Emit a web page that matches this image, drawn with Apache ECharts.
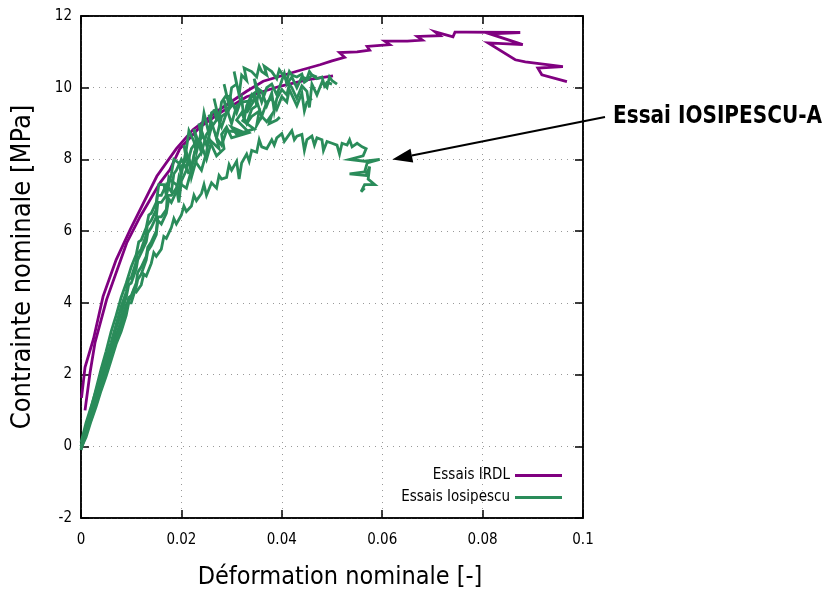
<!DOCTYPE html>
<html>
<head>
<meta charset="utf-8">
<script src="https://cdn.jsdelivr.net/npm/echarts@6/dist/echarts.min.js"></script>
<style>html,body{margin:0;padding:0;background:#fff}#c{width:826px;height:596px}</style>
</head>
<body>
<div id="c"></div>
<script>
var xTicks = [0, 0.02, 0.04, 0.06, 0.08, 0.1];
var yTicks = [-2, 0, 2, 4, 6, 8, 10, 12];

var irdlA = [[0.0001,1.35],[0.0008,2.2],[0.0025,3.0],[0.0044,4.18],[0.007,5.2],[0.0098,6.04],[0.0125,6.8],[0.0151,7.53],[0.019,8.3],[0.0223,8.83],[0.0277,9.4],[0.033,9.9],[0.0363,10.18],[0.043,10.46],[0.0476,10.64],[0.050,10.75],[0.0525,10.85],[0.0515,10.98],[0.055,11.0],[0.0575,11.05],[0.057,11.15],[0.0615,11.2],[0.0605,11.3],[0.065,11.3],[0.068,11.33],[0.067,11.43],[0.0715,11.45],[0.0705,11.56],[0.0741,11.42],[0.0745,11.55],[0.0768,11.55],[0.0875,11.54],[0.0815,11.5],[0.088,11.2],[0.0811,11.25],[0.0865,10.78],[0.0885,10.72],[0.096,10.59],[0.091,10.55],[0.0918,10.36],[0.0968,10.17]];
var irdlB = [[0.0008,1.0],[0.0018,2.05],[0.0028,2.9],[0.0051,4.09],[0.0091,5.67],[0.0118,6.41],[0.0157,7.34],[0.0177,7.71],[0.0197,8.3],[0.0237,8.9],[0.0277,9.3],[0.033,9.75],[0.0396,10.04],[0.045,10.22],[0.0502,10.33]];

var iosA = [[0,-0.1],[0.001,0.35],[0.002,0.75],[0.003,1.3],[0.004,1.75],[0.005,2.2],[0.006,2.65],[0.007,3.1],[0.008,3.5],[0.009,3.95],[0.010,4.15],[0.0105,4.35],[0.011,4.3],[0.012,4.5],[0.0125,4.8],[0.013,4.75],[0.014,5.1],[0.0145,5.4],[0.015,5.3],[0.016,5.5],[0.0165,5.85],[0.017,5.8],[0.018,6.1],[0.0185,6.35],[0.019,6.2],[0.020,6.45],[0.0205,6.7],[0.021,6.55],[0.022,6.7],[0.0225,7.0],[0.023,6.85],[0.024,7.05],[0.0245,7.3],[0.025,7.0],[0.026,7.35],[0.027,7.2],[0.0275,7.55],[0.028,7.45],[0.029,7.5],[0.0295,7.85],[0.030,7.7],[0.031,7.95],[0.0315,7.45],[0.032,7.9],[0.033,8.15],[0.0335,7.95],[0.034,8.25],[0.035,8.2],[0.0355,8.55],[0.036,8.35],[0.037,8.3],[0.038,8.55],[0.0385,8.4],[0.039,8.6],[0.040,8.72],[0.0405,8.5],[0.041,8.6],[0.042,8.8],[0.0425,8.55],[0.043,8.65],[0.044,8.7],[0.0445,8.25],[0.045,8.55],[0.046,8.65],[0.0465,8.4],[0.047,8.6],[0.048,8.55],[0.0483,8.25],[0.049,8.5],[0.050,8.45],[0.051,8.4],[0.0515,8.15],[0.052,8.45],[0.053,8.4],[0.0535,8.55],[0.054,8.35],[0.055,8.45],[0.056,8.35],[0.0568,8.3],[0.0562,8.1],[0.0535,8.0],[0.0565,7.95],[0.0595,8.0],[0.057,7.9],[0.0565,7.65],[0.0535,7.6],[0.0568,7.55],[0.0575,7.8],[0.0572,7.45],[0.0585,7.3],[0.0565,7.3],[0.0558,7.1],[0.0565,7.2]];
var iosB = [[0,0],[0.001,0.55],[0.002,1.05],[0.003,1.6],[0.004,2.15],[0.005,2.65],[0.006,3.2],[0.007,3.65],[0.008,4.15],[0.009,4.55],[0.010,5.0],[0.011,5.35],[0.0115,5.7],[0.012,5.75],[0.013,6.1],[0.0135,6.45],[0.014,6.5],[0.015,6.8],[0.0155,7.3],[0.0165,7.3],[0.017,7.0],[0.018,7.6],[0.0185,8.0],[0.0195,7.9],[0.020,7.6],[0.021,8.3],[0.0215,8.8],[0.0225,8.5],[0.023,8.2],[0.024,8.8],[0.0245,9.3],[0.025,9.0],[0.0255,8.7],[0.026,9.3],[0.027,9.4],[0.0265,9.7],[0.0275,9.1],[0.028,9.6],[0.029,9.8],[0.0285,10.1],[0.0295,9.5],[0.030,10.0],[0.031,10.1],[0.0305,10.45],[0.0315,9.8],[0.032,10.35],[0.033,10.2],[0.0325,10.55],[0.034,10.45],[0.035,10.3],[0.0355,10.6],[0.036,10.45],[0.037,10.35],[0.0365,10.6],[0.038,10.45],[0.039,10.25],[0.0395,10.5],[0.040,10.4],[0.041,10.2],[0.0415,10.45],[0.042,10.35],[0.043,10.3],[0.044,10.38],[0.0445,10.15],[0.045,10.2],[0.046,10.35],[0.047,10.25],[0.048,10.3],[0.0485,10.05],[0.049,10.15],[0.050,10.1]];
var iosC = [[0,-0.1],[0.001,0.45],[0.002,0.9],[0.003,1.35],[0.004,1.9],[0.005,2.35],[0.006,2.8],[0.007,3.3],[0.008,3.7],[0.009,4.15],[0.0095,4.5],[0.010,4.55],[0.011,4.95],[0.0113,5.2],[0.012,5.4],[0.013,5.7],[0.0133,5.95],[0.014,6.1],[0.015,6.4],[0.0153,6.8],[0.016,6.8],[0.017,7.0],[0.0175,7.5],[0.018,7.4],[0.019,7.3],[0.0195,7.0],[0.020,7.8],[0.021,8.0],[0.0205,8.4],[0.022,7.8],[0.023,8.4],[0.024,8.6],[0.0235,9.0],[0.025,8.4],[0.026,8.9],[0.027,9.1],[0.0265,9.4],[0.028,8.9],[0.029,9.3],[0.030,9.5],[0.0295,9.8],[0.031,9.3],[0.032,9.7],[0.0325,9.1],[0.033,9.5],[0.034,9.8],[0.035,9.6],[0.0355,9.95],[0.036,9.9],[0.037,9.5],[0.038,9.85],[0.0385,9.35],[0.039,9.7],[0.040,9.95],[0.041,9.8],[0.0415,10.1],[0.042,10.0],[0.043,9.7],[0.044,10.05],[0.045,9.9],[0.0455,9.45],[0.046,10.1],[0.047,9.8],[0.048,10.15],[0.049,10.0],[0.0495,10.3],[0.050,10.2],[0.051,10.1]];
var iosD = [[0,0],[0.001,0.35],[0.002,0.8],[0.003,1.2],[0.004,1.65],[0.005,2.1],[0.006,2.5],[0.007,3.0],[0.008,3.35],[0.009,3.8],[0.0095,4.15],[0.010,4.2],[0.011,4.55],[0.0113,4.85],[0.012,5.0],[0.013,5.3],[0.0133,5.55],[0.014,5.7],[0.015,6.0],[0.0153,6.4],[0.016,6.4],[0.017,6.6],[0.0172,7.0],[0.018,7.0],[0.019,7.2],[0.0195,6.8],[0.020,7.4],[0.021,7.7],[0.0215,8.1],[0.022,7.5],[0.023,8.0],[0.024,8.2],[0.0235,8.6],[0.025,8.0],[0.026,8.5],[0.0275,8.3],[0.027,8.6],[0.028,8.4],[0.029,8.8],[0.0325,8.75],[0.030,8.9],[0.031,8.7],[0.0345,8.85],[0.032,9.1],[0.033,9.0],[0.034,9.2],[0.0355,9.35],[0.035,8.95],[0.036,9.2],[0.037,9.05],[0.038,9.25],[0.0375,9.0],[0.039,9.1],[0.0396,9.18]];
var iosE = [[0,0.1],[0.001,0.65],[0.002,1.1],[0.003,1.55],[0.004,2.0],[0.005,2.45],[0.006,2.9],[0.007,3.4],[0.008,3.9],[0.009,4.3],[0.0095,4.65],[0.010,4.7],[0.011,5.15],[0.0112,5.35],[0.012,5.5],[0.013,5.9],[0.0132,6.15],[0.014,6.3],[0.015,6.6],[0.0152,7.0],[0.016,7.0],[0.017,7.3],[0.018,7.1],[0.0185,7.6],[0.019,7.7],[0.020,8.0],[0.0215,7.6],[0.021,7.8],[0.022,8.3],[0.023,8.5],[0.0225,8.85],[0.024,8.2],[0.025,8.7],[0.026,8.9],[0.0255,9.25],[0.027,8.6],[0.028,9.2],[0.029,9.3],[0.0285,9.65],[0.030,9.0],[0.031,9.5],[0.032,9.6],[0.0345,9.65],[0.033,9.3],[0.034,9.8],[0.035,9.9],[0.0345,10.25],[0.036,9.6],[0.037,10.0],[0.038,10.1],[0.039,9.8],[0.040,10.2],[0.0405,10.4],[0.041,10.1],[0.042,10.3],[0.043,10.0],[0.044,10.3],[0.045,10.25],[0.0455,10.45],[0.046,10.35],[0.047,10.3]];
var iosF = [[0,-0.05],[0.001,0.25],[0.002,0.7],[0.003,1.1],[0.004,1.55],[0.005,1.95],[0.006,2.4],[0.007,2.85],[0.008,3.2],[0.009,3.65],[0.0095,4.0],[0.010,4.0],[0.011,4.45],[0.0113,4.65],[0.012,4.8],[0.013,5.2],[0.0133,5.45],[0.014,5.6],[0.015,5.9],[0.0153,6.3],[0.016,6.2],[0.017,6.5],[0.0175,6.9],[0.018,6.8],[0.019,7.1],[0.0195,7.5],[0.020,7.3],[0.021,7.2],[0.022,7.7],[0.0225,8.1],[0.023,7.9],[0.024,7.7],[0.025,8.2],[0.0255,8.6],[0.026,8.4],[0.027,8.1],[0.0285,8.3],[0.028,8.7],[0.029,8.9],[0.030,8.6],[0.0335,8.75],[0.031,9.1],[0.032,9.3],[0.033,9.0],[0.034,9.4],[0.035,9.5],[0.0345,9.85],[0.036,9.2],[0.037,9.6],[0.038,9.7],[0.039,9.4],[0.040,9.75],[0.041,9.6],[0.0415,9.95],[0.042,9.8],[0.043,9.5],[0.044,9.85],[0.0445,9.35],[0.045,9.6],[0.046,9.7]];

var arrowHead = [0.062, 8.0];
var labelText = 'Essai IOSIPESCU-A';

var FONT = "'Liberation Sans Narrow','DejaVu Sans Condensed','Liberation Sans',sans-serif";
var PURPLE = '#800080';
var GREEN = '#2a8c5a';

var chart = echarts.init(document.getElementById('c'), null, {renderer: 'canvas'});

function mkSeries(name, data, color) {
  return {
    name: name, type: 'line', data: data, showSymbol: false, symbol: 'none',
    smooth: false, clip: true, animation: false,
    lineStyle: {color: color, width: 2.8, join: 'miter', miterLimit: 6}, itemStyle: {color: color}
  };
}

var series = [
  mkSeries('Essais IRDL', irdlA, PURPLE),
  mkSeries('Essais IRDL', irdlB, PURPLE),
  mkSeries('Essais Iosipescu', iosA, GREEN),
  mkSeries('Essais Iosipescu', iosB, GREEN),
  mkSeries('Essais Iosipescu', iosC, GREEN),
  mkSeries('Essais Iosipescu', iosD, GREEN),
  mkSeries('Essais Iosipescu', iosE, GREEN),
  mkSeries('Essais Iosipescu', iosF, GREEN)
];

var gridLine = {show: true, lineStyle: {color: '#999', type: [1, 5], width: 1}};

chart.setOption({
  animation: false,
  backgroundColor: '#fff',
  textStyle: {fontFamily: FONT},
  grid: {left: 81, right: 243, top: 16, bottom: 78, show: true, borderColor: '#000', borderWidth: 1.5, backgroundColor: 'transparent'},
  legend: {
    data: ['Essais IRDL', 'Essais Iosipescu'],
    orient: 'vertical', align: 'right',
    right: 259, top: 463, itemGap: 7,
    icon: 'rect', itemWidth: 47, itemHeight: 3,
    textStyle: {fontFamily: FONT, fontSize: 15, color: '#000'}
  },
  xAxis: [{
    type: 'value', min: xTicks[0], max: xTicks[xTicks.length - 1], interval: 0.02,
    name: 'Déformation nominale [-]', nameLocation: 'middle', nameGap: 47,
    nameTextStyle: {fontFamily: FONT, fontSize: 25, color: '#000', padding: [0, 0, 0, 16]},
    axisLine: {show: true, onZero: false, lineStyle: {color: '#000', width: 1.5}},
    axisTick: {show: true, inside: true, length: 8, lineStyle: {color: '#000', width: 1.5}},
    axisLabel: {margin: 15, fontFamily: FONT, fontSize: 15, color: '#000',
      formatter: function (v) { return String(+v.toFixed(2)); }},
    splitLine: gridLine
  }, {
    type: 'value', position: 'top', min: xTicks[0], max: xTicks[xTicks.length - 1], interval: 0.02,
    axisLine: {show: true, onZero: false, lineStyle: {color: '#000', width: 1.5}},
    axisTick: {show: true, inside: true, length: 8, lineStyle: {color: '#000', width: 1.5}},
    axisLabel: {show: false}, splitLine: {show: false}
  }],
  yAxis: [{
    type: 'value', min: yTicks[0], max: yTicks[yTicks.length - 1], interval: 2,
    name: 'Contrainte nominale [MPa]', nameLocation: 'middle', nameGap: 45, nameRotate: 90,
    nameTextStyle: {fontFamily: FONT, fontSize: 27, color: '#000'},
    axisLine: {show: true, onZero: false, lineStyle: {color: '#000', width: 1.5}},
    axisTick: {show: true, inside: true, length: 8, lineStyle: {color: '#000', width: 1.5}},
    axisLabel: {margin: 9, fontFamily: FONT, fontSize: 15, color: '#000'},
    splitLine: gridLine
  }, {
    type: 'value', position: 'right', min: yTicks[0], max: yTicks[yTicks.length - 1], interval: 2,
    axisLine: {show: true, onZero: false, lineStyle: {color: '#000', width: 1.5}},
    axisTick: {show: true, inside: true, length: 8, lineStyle: {color: '#000', width: 1.5}},
    axisLabel: {show: false}, splitLine: {show: false}
  }],
  series: series
});

var labelFont = 'bold 25px ' + FONT;
var ctx = document.createElement('canvas').getContext('2d');
ctx.font = labelFont;
var tw = ctx.measureText(labelText).width;
var sx = Math.min(1, 209 / tw);

var head = chart.convertToPixel({xAxisIndex: 0, yAxisIndex: 0}, arrowHead);
var tail = [605, 117];
var dx = tail[0] - head[0], dy = tail[1] - head[1];
var len = Math.sqrt(dx * dx + dy * dy);
var ux = dx / len, uy = dy / len;
var hl = 20, hw = 7;
var bx = head[0] + ux * hl, by = head[1] + uy * hl;
chart.setOption({
  graphic: [
    {type: 'line', shape: {x1: tail[0], y1: tail[1], x2: bx, y2: by}, style: {stroke: '#000', lineWidth: 2.2}, z: 100},
    {type: 'polygon', shape: {points: [[head[0], head[1]], [bx - uy * hw, by + ux * hw], [bx + uy * hw, by - ux * hw]]}, style: {fill: '#000'}, z: 100},
    {type: 'text', x: 613, y: 116, scaleX: sx, scaleY: 1, style: {text: labelText, fill: '#000', font: labelFont, textVerticalAlign: 'middle', verticalAlign: 'middle'}, z: 100}
  ]
});
</script>
</body>
</html>
